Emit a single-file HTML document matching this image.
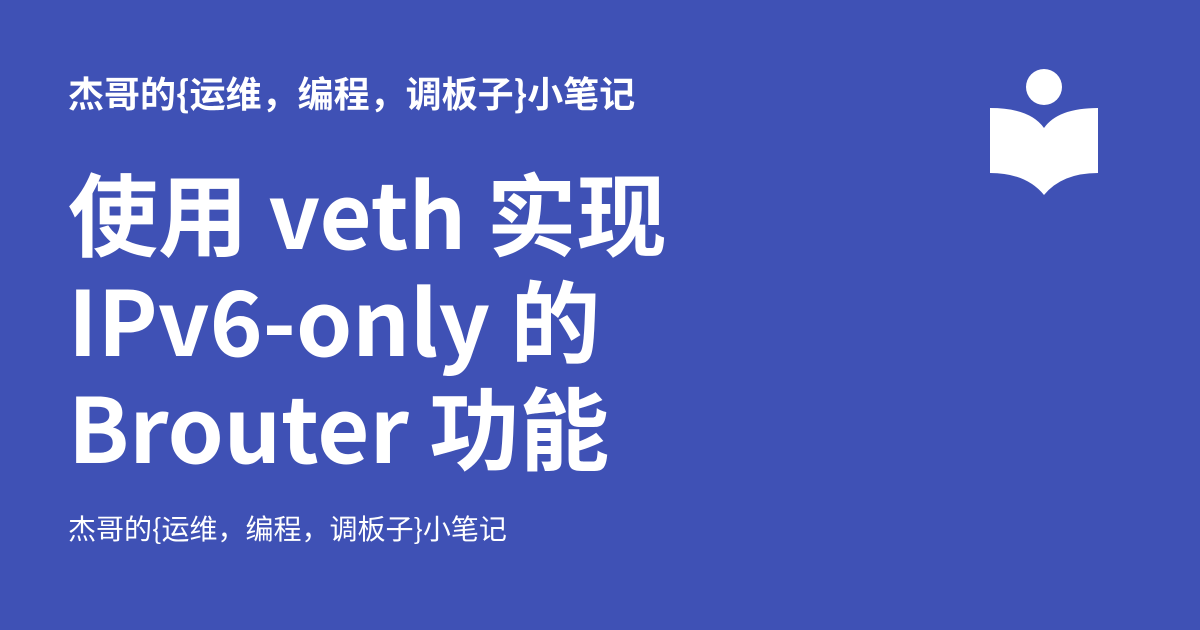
<!DOCTYPE html>
<html><head><meta charset="utf-8"><style>
html,body{margin:0;padding:0}
body{width:1200px;height:630px;background:#3f51b5;position:relative;overflow:hidden;font-family:"Noto Sans CJK SC","Liberation Sans",sans-serif;color:#fff}
.t{position:absolute;left:68px;white-space:nowrap;line-height:1}
#top{top:74px;font-size:36px;font-weight:bold}
#title{top:157px;font-size:90px;font-weight:bold;line-height:107px}
#foot{top:514px;font-size:28px}
svg{position:absolute;left:0;top:0}
</style></head><body>
<div class="t" id="top">杰哥的{运维，编程，调板子}小笔记</div>
<div class="t" id="title">使用 veth 实现<br>IPv6-only 的<br>Brouter 功能</div>
<div class="t" id="foot">杰哥的{运维，编程，调板子}小笔记</div>
<svg width="1200" height="630">
<circle cx="1044" cy="87" r="18" fill="#fff"/>
<path d="M990 108 Q1030 108 1044 128 Q1058 108 1098 108 L1098 173 Q1062 173 1044 195 Q1026 173 990 173 Z" fill="#fff"/>
</svg>
</body></html>
